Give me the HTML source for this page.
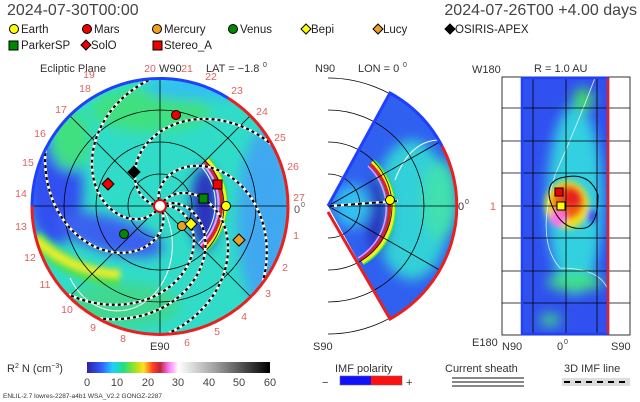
<!DOCTYPE html>
<html><head><meta charset="utf-8"><style>
html,body{margin:0;padding:0;background:#fff;}
svg{display:block;font-family:"Liberation Sans",sans-serif;}
</style></head><body>
<svg id="s" width="640" height="402" viewBox="0 0 640 402" xmlns="http://www.w3.org/2000/svg">
<defs>
<filter id="b6" x="-50%" y="-50%" width="200%" height="200%"><feGaussianBlur stdDeviation="6"/></filter>
<filter id="b3" x="-50%" y="-50%" width="200%" height="200%"><feGaussianBlur stdDeviation="3"/></filter>
<clipPath id="cc"><circle cx="160" cy="206" r="128"/></clipPath>
<clipPath id="wc"><path d="M328,206 L390,93 A129,129 0 0 1 390,319 Z"/></clipPath>
<clipPath id="rc"><rect x="522" y="78" width="86" height="256"/></clipPath>
<linearGradient id="cb" x1="0" x2="1">
<stop offset="0" stop-color="#3020a0"/><stop offset="0.08" stop-color="#3060ff"/><stop offset="0.14" stop-color="#20d0ff"/><stop offset="0.2" stop-color="#20e080"/><stop offset="0.26" stop-color="#a0e020"/><stop offset="0.31" stop-color="#ffe020"/><stop offset="0.36" stop-color="#ff4020"/><stop offset="0.4" stop-color="#c02040"/><stop offset="0.45" stop-color="#ff80ff"/><stop offset="0.5" stop-color="#fff"/><stop offset="0.7" stop-color="#a0a0a0"/><stop offset="1" stop-color="#000"/>
</linearGradient>
</defs>
<text x="7" y="15" font-size="16" fill="#444">2024-07-30T00:00</text>
<text x="637" y="15" font-size="16" fill="#444" text-anchor="end">2024-07-26T00 +4.00 days</text>
<g font-size="11.5" fill="#222">
<circle cx="14" cy="29" r="4.5" fill="#ff0" stroke="#000"/><text x="21" y="33">Earth</text>
<circle cx="87" cy="29" r="4.5" fill="#e00" stroke="#000"/><text x="94" y="33">Mars</text>
<circle cx="157" cy="29" r="4.5" fill="#f0a020" stroke="#000"/><text x="164" y="33">Mercury</text>
<circle cx="233" cy="29" r="4.5" fill="#080" stroke="#000"/><text x="240" y="33">Venus</text>
<path d="M306,24 l5,5 -5,5 -5,-5z" fill="#ff0" stroke="#000"/><text x="311" y="33">Bepi</text>
<path d="M378,24 l5,5 -5,5 -5,-5z" fill="#f0a020" stroke="#000"/><text x="383" y="33">Lucy</text>
<path d="M450,24 l5,5 -5,5 -5,-5z" fill="#000" stroke="#000"/><text x="455" y="33">OSIRIS-APEX</text>
<rect x="9" y="41" width="9" height="9" fill="#080" stroke="#000"/><text x="21" y="49">ParkerSP</text>
<path d="M86,40 l5,5 -5,5 -5,-5z" fill="#e00" stroke="#000"/><text x="91" y="49">SolO</text>
<rect x="153" y="41" width="9" height="9" fill="#e00" stroke="#000"/><text x="164" y="49">Stereo_A</text>
</g>
<g font-size="11" fill="#333">
<text x="40" y="72">Ecliptic Plane</text>
<text x="159" y="72">W90</text>
<text x="206" y="72">LAT = −1.8</text><text x="263" y="67" font-size="7">0</text>
<text x="315" y="72">N90</text>
<text x="358" y="72">LON = 0</text><text x="403" y="67" font-size="7">0</text>
<text x="472" y="73">W180</text>
<text x="534" y="72">R = 1.0 AU</text>
</g>
<g clip-path="url(#cc)">
<rect x="30" y="76" width="260" height="260" fill="#30dcc8"/>
<g filter="url(#b6)">
<ellipse cx="55" cy="190" rx="28" ry="55" fill="#3050f0"/>
<ellipse cx="110" cy="235" rx="55" ry="18" fill="#3a60f0" transform="rotate(15 110 235)"/>
<ellipse cx="265" cy="220" rx="28" ry="90" fill="#40a8f0"/>
<ellipse cx="150" cy="110" rx="60" ry="22" fill="#40e080"/>
<ellipse cx="120" cy="305" rx="60" ry="22" fill="#40d890"/>
<ellipse cx="70" cy="140" rx="20" ry="30" fill="#40e080"/>
<ellipse cx="205" cy="88" rx="60" ry="12" fill="#30c0f0"/>
<ellipse cx="205" cy="208" rx="14" ry="42" fill="#2a30c0"/>
</g>
<g filter="url(#b3)">
<path d="M34,238 Q70,275 120,278" stroke="#50e050" stroke-width="18" fill="none"/>
<path d="M34,238 Q70,272 120,274" stroke="#f0f020" stroke-width="7" fill="none"/>
</g>
<g fill="none">
<path d="M207,160 A62,62 0 0 1 204,250" stroke="#30e060" stroke-width="7"/>
<path d="M207,160 A62,62 0 0 1 204,250" stroke="#f0f020" stroke-width="4"/>
<path d="M205,162 A60,60 0 0 1 202,248" stroke="#e02020" stroke-width="3"/>
<path d="M203,164 A58,58 0 0 1 200,246" stroke="#ff90ff" stroke-width="2"/>
<path d="M201,166 A56,56 0 0 1 198,244" stroke="#fff" stroke-width="1"/>
<path d="M165,212 A50,60 0 0 1 70,278" stroke="#fff" stroke-width="1"/>
</g>
<g stroke="#000" stroke-width="0.8" fill="none">
<circle cx="160" cy="206" r="32"/><circle cx="160" cy="206" r="64"/><circle cx="160" cy="206" r="96"/>
<line x1="30" y1="206" x2="290" y2="206"/><line x1="160" y1="76" x2="160" y2="336"/>
<line x1="70" y1="116" x2="250" y2="296"/><line x1="250" y1="116" x2="70" y2="296"/>
</g>
<g id="sp"></g>
</g>
<path d="M32,206 A128,128 0 0 1 228,98" stroke="#2040ff" stroke-width="3" fill="none"/>
<path d="M228,98 A128,128 0 1 1 32,206" stroke="#e82020" stroke-width="3" fill="none"/>
<circle cx="160" cy="206" r="6" fill="#fff" stroke="#e00" stroke-width="2"/>
<g stroke="#000" stroke-width="1">
<circle cx="176" cy="115" r="4.5" fill="#e00"/>
<path d="M134,166 l6,6 -6,6 -6,-6z" fill="#000"/>
<path d="M108,178 l6,6 -6,6 -6,-6z" fill="#e00"/>
<rect x="213" y="180" width="9" height="9" fill="#e00"/>
<rect x="199" y="194" width="9" height="9" fill="#080"/>
<circle cx="226" cy="206" r="4.5" fill="#ff0"/>
<circle cx="182" cy="226" r="4.5" fill="#f0a020"/>
<path d="M191,218 l6,6 -6,6 -6,-6z" fill="#ff0"/>
<circle cx="124" cy="234" r="4.5" fill="#080"/>
<path d="M239,234 l6,6 -6,6 -6,-6z" fill="#f0a020"/>
</g>
<g font-size="10.5" fill="#e06060" text-anchor="middle">
<text x="299" y="201">27</text><text x="296" y="239">1</text><text x="285" y="271">2</text><text x="268" y="297">3</text><text x="244" y="320">4</text><text x="217" y="335">5</text><text x="187" y="346">6</text><text x="123" y="342">8</text><text x="93" y="331">9</text><text x="67" y="313">10</text><text x="45" y="288">11</text><text x="30" y="261">12</text><text x="21" y="230">13</text><text x="21" y="197">14</text><text x="28" y="166">15</text><text x="40" y="137">16</text><text x="61" y="113">17</text><text x="85" y="92">18</text><text x="89" y="78">19</text><text x="150" y="72">20</text><text x="187" y="72">21</text><text x="211" y="80">22</text><text x="237" y="94">23</text><text x="262" y="115">24</text><text x="280" y="141">25</text><text x="293" y="170">26</text>
</g>
<text x="294" y="213" font-size="11" fill="#555">0</text><text x="301" y="207" font-size="7" fill="#555">0</text>
<text x="150" y="350" font-size="11" fill="#333">E90</text>
<g stroke="#000" stroke-width="0.8" fill="none">
<path d="M328,174 A32,32 0 0 1 328,238"/><path d="M328,142 A64,64 0 0 1 328,270"/><path d="M328,110 A96,96 0 0 1 328,302"/><path d="M328,78 A128,128 0 0 1 328,334"/>
</g>
<g clip-path="url(#wc)">
<rect x="328" y="90" width="130" height="232" fill="#3060f0"/>
<g filter="url(#b6)">
<ellipse cx="412" cy="210" rx="38" ry="70" fill="#30d0d8"/>
<ellipse cx="440" cy="200" rx="18" ry="40" fill="#40e0b0"/>
<ellipse cx="378" cy="215" rx="12" ry="40" fill="#2a30c0"/>
<ellipse cx="352" cy="206" rx="18" ry="22" fill="#30c0f0"/>
</g>
<g fill="none">
<path d="M372,162 A62,62 0 0 1 362,262" stroke="#30e060" stroke-width="7"/>
<path d="M372,162 A62,62 0 0 1 362,262" stroke="#f0f020" stroke-width="4"/>
<path d="M370,164 A60,60 0 0 1 360,260" stroke="#e02020" stroke-width="3"/>
<path d="M368,166 A58,58 0 0 1 358,258" stroke="#ff90ff" stroke-width="1.5"/>
<path d="M395,180 Q410,140 440,140" stroke="#fff" stroke-width="1"/>
</g>
<g stroke="#000" stroke-width="0.8" fill="none">
<path d="M328,174 A32,32 0 0 1 328,238"/><path d="M328,142 A64,64 0 0 1 328,270"/><path d="M328,110 A96,96 0 0 1 328,302"/>
<line x1="328" y1="206" x2="460" y2="206"/><line x1="328" y1="206" x2="450" y2="136"/><line x1="328" y1="206" x2="450" y2="276"/>
</g>
<line x1="330" y1="206" x2="398" y2="201" stroke="#fff" stroke-width="2.5"/>
<line x1="330" y1="206" x2="398" y2="201" stroke="#000" stroke-width="2" stroke-dasharray="4,3"/>
</g>
<path d="M328,206 L390,93 A129,129 0 0 1 442,146" stroke="#2040ff" stroke-width="3" fill="none"/>
<path d="M442,146 A129,129 0 0 1 390,319 L328,212" stroke="#e82020" stroke-width="3" fill="none"/>
<circle cx="390" cy="200" r="4.5" fill="#ff0" stroke="#000"/>
<text x="458" y="210" font-size="11" fill="#333">0</text><text x="465" y="204" font-size="7" fill="#333">0</text>
<text x="313" y="350" font-size="11" fill="#333">S90</text>
<rect x="502" y="77" width="128" height="258" fill="none" stroke="#000" stroke-width="0.8"/>
<g clip-path="url(#rc)">
<rect x="522" y="78" width="86" height="256" fill="#3050f0"/>
<g filter="url(#b6)">
<ellipse cx="575" cy="200" rx="28" ry="95" fill="#30d0e0"/>
<ellipse cx="583" cy="100" rx="10" ry="12" fill="#40e060"/>
<ellipse cx="575" cy="282" rx="28" ry="9" fill="#40e080"/>
<ellipse cx="550" cy="320" rx="10" ry="6" fill="#40e080"/>
</g>
<g filter="url(#b3)">
<ellipse cx="567" cy="205" rx="22" ry="24" fill="#f0e020"/>
<ellipse cx="568" cy="202" rx="16" ry="17" fill="#f06010"/>
<ellipse cx="572" cy="198" rx="9" ry="9" fill="#e82020"/>
<ellipse cx="558" cy="218" rx="8" ry="9" fill="#ff70e0"/>
<ellipse cx="592" cy="216" rx="5" ry="7" fill="#3050f0"/>
</g>
<path d="M595,78 Q575,130 555,175 Q535,240 560,268 Q600,268 608,290" stroke="#e8f0ff" stroke-width="0.8" fill="none"/>
<path d="M550,200 Q545,180 565,177 Q590,172 598,195 Q598,225 585,228 Q560,232 550,200" stroke="#000" stroke-width="1" fill="none"/>
</g>
<g stroke="#000" stroke-width="0.8">
<line x1="533" y1="78" x2="533" y2="334"/><line x1="566" y1="78" x2="566" y2="334"/><line x1="597" y1="78" x2="597" y2="334"/>
<line x1="502" y1="108" x2="630" y2="108"/><line x1="502" y1="141" x2="630" y2="141"/><line x1="502" y1="173" x2="630" y2="173"/><line x1="502" y1="206" x2="630" y2="206"/><line x1="502" y1="238" x2="630" y2="238"/><line x1="502" y1="271" x2="630" y2="271"/><line x1="502" y1="303" x2="630" y2="303"/>
</g>
<rect x="522" y="78" width="86" height="256" fill="none" stroke="#2040ff" stroke-width="2.5"/>
<line x1="608" y1="78" x2="608" y2="334" stroke="#e82020" stroke-width="2.5"/>
<rect x="555" y="188" width="8" height="8" fill="#e00" stroke="#000"/>
<rect x="557" y="202" width="8" height="8" fill="#ff0" stroke="#000"/>
<text x="496" y="210" font-size="11" fill="#e06060" text-anchor="end">1</text>
<text x="472" y="346" font-size="11" fill="#333">E180</text>
<text x="502" y="350" font-size="11" fill="#333">N90</text>
<text x="557" y="350" font-size="11" fill="#333">0</text><text x="564" y="344" font-size="7" fill="#333">0</text>
<text x="611" y="350" font-size="11" fill="#333">S90</text>
<text x="7" y="372" font-size="11" fill="#333">R<tspan font-size="7" dy="-4">2</tspan><tspan dy="4"> N (cm</tspan><tspan font-size="7" dy="-4">−3</tspan><tspan dy="4">)</tspan></text>
<rect x="87" y="362" width="183" height="11" fill="url(#cb)"/>
<g font-size="11" fill="#444" text-anchor="middle">
<text x="87" y="386">0</text><text x="117" y="386">10</text><text x="148" y="386">20</text><text x="178" y="386">30</text><text x="209" y="386">40</text><text x="239" y="386">50</text><text x="270" y="386">60</text>
</g>
<text x="335" y="372" font-size="11" fill="#333">IMF polarity</text>
<text x="322" y="386" font-size="11" fill="#333">−</text>
<rect x="340" y="376" width="31" height="9" fill="#1010ff"/><rect x="371" y="376" width="31" height="9" fill="#ff1010"/>
<rect x="340" y="376" width="62" height="9" fill="none" stroke="#666" stroke-width="0.6"/>
<text x="406" y="386" font-size="11" fill="#333">+</text>
<text x="445" y="372" font-size="11" fill="#333">Current sheath</text>
<rect x="452" y="377" width="72" height="2" fill="#888"/><rect x="452" y="381" width="72" height="2" fill="#888"/><rect x="452" y="385" width="72" height="2" fill="#888"/>
<text x="564" y="372" font-size="11" fill="#333">3D IMF line</text>
<rect x="562" y="378" width="68" height="8" fill="#ddd"/>
<line x1="564" y1="382" x2="630" y2="382" stroke="#000" stroke-width="2" stroke-dasharray="6,5"/>
<text x="3" y="398" font-size="6.5" fill="#333">ENLIL-2.7 lowres-2287-a4b1 WSA_V2.2 GONGZ-2287</text>
</svg>
<script>
(function(){
var g=document.getElementById('sp'),cx=160,cy=206,ns='http://www.w3.org/2000/svg';
var starts=[10,28,60,110,175,240,300];
starts.forEach(function(a0){
 var d='';
 for(var r=6;r<=132;r+=3){var t=a0*Math.PI/180-r*0.02;var x=cx+r*Math.cos(t),y=cy-r*Math.sin(t);d+=(d?'L':'M')+x.toFixed(1)+','+y.toFixed(1);}
 var p1=document.createElementNS(ns,'path');p1.setAttribute('d',d);p1.setAttribute('stroke','#fff');p1.setAttribute('stroke-width','2.6');p1.setAttribute('fill','none');g.appendChild(p1);
 var p2=document.createElementNS(ns,'path');p2.setAttribute('d',d);p2.setAttribute('stroke','#000');p2.setAttribute('stroke-width','2.2');p2.setAttribute('stroke-dasharray','3,3');p2.setAttribute('fill','none');g.appendChild(p2);
});
})();
</script>
</body></html>
